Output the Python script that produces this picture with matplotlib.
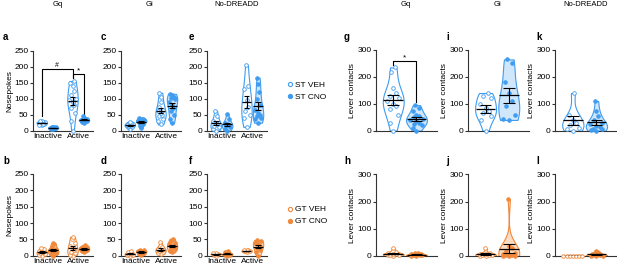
import numpy as np
import matplotlib
matplotlib.use("Agg")
import matplotlib.pyplot as plt
from matplotlib.lines import Line2D
from matplotlib.mlab import GaussianKDE

plt.rcParams['font.family'] = ['Liberation Sans', 'DejaVu Sans']

W, H = 617, 265

blue = '#3f9cf0'
blue_fill = '#cfe6fb'
orange = '#f0893c'
orange_fill = '#fcdcc3'
spine_col = '#333333'

# nosepokes: inactive VEH, inactive CNO, active VEH, active CNO
a_data = [[18, 20, 22, 24, 25, 26, 28, 30, 22, 27, 19, 31],
          [5, 7, 8, 9, 10, 11, 12, 10, 8, 13, 9, 6],
          [0, 30, 55, 70, 80, 88, 95, 100, 110, 125, 140, 150, 155],
          [25, 28, 30, 32, 33, 35, 36, 38, 40, 30, 34, 45]]
c_data = [[5, 10, 12, 15, 18, 20, 22, 25, 28, 14, 19],
          [8, 15, 20, 25, 28, 30, 32, 35, 38, 40, 27, 33],
          [20, 30, 38, 45, 50, 55, 60, 65, 75, 90, 105, 118],
          [25, 35, 50, 60, 70, 80, 90, 98, 102, 105, 110, 115]]
e_data = [[0, 5, 10, 15, 20, 25, 30, 45, 62],
          [0, 5, 10, 15, 18, 20, 25, 35, 53],
          [12, 40, 50, 60, 75, 95, 130, 140, 205],
          [25, 35, 40, 45, 50, 55, 65, 80, 100, 120, 145, 165]]
b_data = [[0, 2, 5, 8, 10, 12, 15, 20, 25],
          [0, 5, 8, 10, 12, 15, 18, 22, 28, 35, 38],
          [0, 3, 8, 12, 18, 25, 30, 40, 50, 58],
          [10, 14, 16, 18, 20, 22, 24, 26, 28, 32]]
d_data = [[0, 2, 3, 5, 6, 8, 10, 15],
          [2, 5, 8, 10, 12, 14, 15, 16, 18],
          [5, 8, 10, 15, 18, 20, 22, 28, 42],
          [10, 15, 20, 25, 28, 30, 35, 40, 45, 52]]
f_data = [[0, 2, 4, 5, 6, 7, 8],
          [0, 2, 3, 5, 6, 8, 10, 15],
          [12, 13, 14, 15, 16, 17, 18],
          [0, 10, 18, 25, 30, 35, 40, 45, 48]]

# lever contacts: VEH, CNO
g_data = [[0, 30, 60, 80, 90, 100, 110, 120, 130, 140, 160, 220, 235],
          [0, 10, 20, 25, 30, 35, 40, 45, 50, 55, 60, 75, 85, 95]]
i_data = [[0, 40, 55, 65, 75, 85, 100, 120, 130, 140],
          [40, 45, 60, 90, 110, 140, 180, 250, 265]]
k_data = [[0, 5, 10, 20, 30, 40, 60, 140],
          [0, 2, 5, 8, 12, 18, 25, 30, 40, 55, 75, 110]]
h_data = [[0, 2, 4, 5, 6, 8, 10, 15, 28],
          [0, 1, 2, 3, 4, 5, 6, 8, 10, 12]]
j_data = [[0, 0, 2, 3, 5, 6, 8, 10, 28],
          [0, 0, 1, 2, 3, 5, 8, 12, 20, 30, 38, 210]]
l_data = [[0, 0, 0, 0, 0, 0, 0],
          [0, 0, 1, 2, 3, 5, 8, 12, 20]]

np_pos = [0, 1, 2.67, 3.67]
lv_pos = [0, 1]
np_ticks = [0.5, 3.17]
np_labels = ['Inactive', 'Active']

fig = plt.figure(figsize=(W / 100, H / 100), dpi=100)


def px_axes(left, y0, ytop, width):
    return fig.add_axes([left / W, 1 - y0 / H, width / W, (y0 - ytop) / H])


def draw_groups(ax, groups, positions, edge, fill):
    pattern = np.array([0, -0.6, 0.6, -0.3, 0.3])
    for i, (vals, pos) in enumerate(zip(groups, positions)):
        vals = np.asarray(vals, float)
        cno = i % 2 == 1
        if np.ptp(vals) > 0:
            vp = ax.violinplot([vals], positions=[pos], widths=0.9,
                               showextrema=False)
            for b in vp['bodies']:
                b.set_facecolor(fill if cno else 'white')
                b.set_edgecolor(edge)
                b.set_alpha(1)
                b.set_linewidth(0.8)
            kde = GaussianKDE(vals, 'scott')
            dens = kde.evaluate(np.linspace(vals.min(), vals.max(), 100))
            hw = kde.evaluate(vals) / dens.max() * 0.9 / 2
            order = np.argsort(vals, kind='stable')
            offs = np.empty_like(vals)
            offs[order] = pattern[np.arange(len(vals)) % 5] * hw[order]
        else:
            # all values equal: points laid out in a row
            offs = np.linspace(-0.4, 0.4, len(vals))
        ax.plot(pos + offs, vals, 'o', ms=2.6, mew=0.6, mec=edge,
                mfc=edge if cno else 'white', clip_on=False, zorder=3)
        m = vals.mean()
        s = vals.std(ddof=1) / np.sqrt(len(vals))
        ax.vlines(pos, m - s, m + s, color='k', lw=0.8, zorder=4)
        ax.hlines([m - s, m + s], pos - 0.25, pos + 0.25, color='k', lw=0.8, zorder=4)
        ax.hlines(m, pos - 0.42, pos + 0.42, color='k', lw=0.9, zorder=4)


def style(ax, ymax, step, ylabel=None):
    ax.set_ylim(0, ymax)
    ax.set_yticks(np.arange(0, ymax + 1, step))
    ax.spines[['top', 'right']].set_visible(False)
    for sp in ('left', 'bottom'):
        ax.spines[sp].set_linewidth(0.8)
        ax.spines[sp].set_color(spine_col)
    ax.tick_params(axis='y', length=2, width=0.8, pad=1, labelsize=6,
                   color=spine_col)
    ax.tick_params(axis='x', length=0, pad=2, labelsize=6)
    if ylabel:
        ax.set_ylabel(ylabel, fontsize=6, labelpad=1)


# nosepoke panels
np_left = [32.7, 120.7, 206.7]
top_panels = [(a_data, 'a', 'Nosepokes'), (c_data, 'c', None), (e_data, 'e', None)]
bot_panels = [(b_data, 'b', 'Nosepokes'), (d_data, 'd', None), (f_data, 'f', None)]
axes_np = {}
for left, (data, lab, yl) in zip(np_left, top_panels):
    ax = px_axes(left, 130.7, 50.5, 60)
    draw_groups(ax, data, np_pos, blue, blue_fill)
    ax.set_xlim(-0.78, 4.42)
    ax.set_xticks(np_ticks, np_labels)
    style(ax, 250, 50, yl)
    axes_np[lab] = ax
for left, (data, lab, yl) in zip(np_left, bot_panels):
    ax = px_axes(left, 255.7, 174, 60)
    draw_groups(ax, data, np_pos, orange, orange_fill)
    ax.set_xlim(-0.78, 4.42)
    ax.set_xticks(np_ticks, np_labels)
    style(ax, 250, 50, yl)
    axes_np[lab] = ax

# lever panels
lv_left = [375.7, 468, 555]
lv_width = [61, 61, 62]
for left, wd, data in zip(lv_left, lv_width, [g_data, i_data, k_data]):
    ax = px_axes(left, 130.7, 50, wd)
    draw_groups(ax, data, lv_pos, blue, blue_fill)
    ax.set_xlim(-0.755, 1.87)
    ax.set_xticks([])
    style(ax, 300, 100, 'Lever contacts')
    if data is g_data:
        ax.plot([0, 0, 1, 1], [244, 260, 260, 108], color='k', lw=0.8, clip_on=False)
        ax.text(0.5, 258, '*', ha='center', va='bottom', fontsize=6)
for left, wd, data in zip(lv_left, lv_width, [h_data, j_data, l_data]):
    ax = px_axes(left, 256, 174.3, wd)
    draw_groups(ax, data, lv_pos, orange, orange_fill)
    ax.set_xlim(-0.755, 1.87)
    ax.set_xticks([])
    style(ax, 300, 100, 'Lever contacts')

# significance in panel a
ax = axes_np['a']
ax.plot([0, 0, 2.67, 2.67], [45, 191, 191, 165], color='k', lw=0.8)
ax.text(1.33, 193, '#', ha='center', va='bottom', fontsize=5)
ax.plot([2.67, 2.67, 3.67, 3.67], [165, 176, 176, 50], color='k', lw=0.8)
ax.text(3.17, 174, '*', ha='center', va='bottom', fontsize=6)

# panel letters
for lab, x, y in [('a', 3, 37), ('c', 101, 37), ('e', 189, 37), ('g', 344, 37),
                  ('i', 446, 37), ('k', 536, 37), ('b', 3, 161), ('d', 101, 161),
                  ('f', 189, 161), ('h', 344, 161), ('j', 446, 161), ('l', 536, 161)]:
    fig.text(x / W, 1 - y / H, lab, fontsize=7, fontweight='bold', va='center')

# column titles
for t, x in [('Gq', 58), ('Gi', 149), ('No-DREADD', 237),
             ('Gq', 406), ('Gi', 498), ('No-DREADD', 586)]:
    fig.text(x / W, 1 - 5 / H, t, fontsize=5.5, ha='center', va='center')

# legends
st_handles = [Line2D([], [], ls='none', marker='o', ms=3, mew=0.8, mec=blue, mfc='white'),
              Line2D([], [], ls='none', marker='o', ms=3, mew=0.8, mec=blue, mfc=blue)]
gt_handles = [Line2D([], [], ls='none', marker='o', ms=3, mew=0.8, mec=orange, mfc='white'),
              Line2D([], [], ls='none', marker='o', ms=3, mew=0.8, mec=orange, mfc=orange)]
fig.legend(st_handles, ['ST VEH', 'ST CNO'], loc='center left',
           bbox_to_anchor=(283 / W, 1 - 91.5 / H), frameon=False, fontsize=6,
           handlelength=0.6, handletextpad=0.3, labelspacing=0.5, borderpad=0)
fig.legend(gt_handles, ['GT VEH', 'GT CNO'], loc='center left',
           bbox_to_anchor=(283 / W, 1 - 215.5 / H), frameon=False, fontsize=6,
           handlelength=0.6, handletextpad=0.3, labelspacing=0.5, borderpad=0)

fig.savefig('out.png', dpi=100)
